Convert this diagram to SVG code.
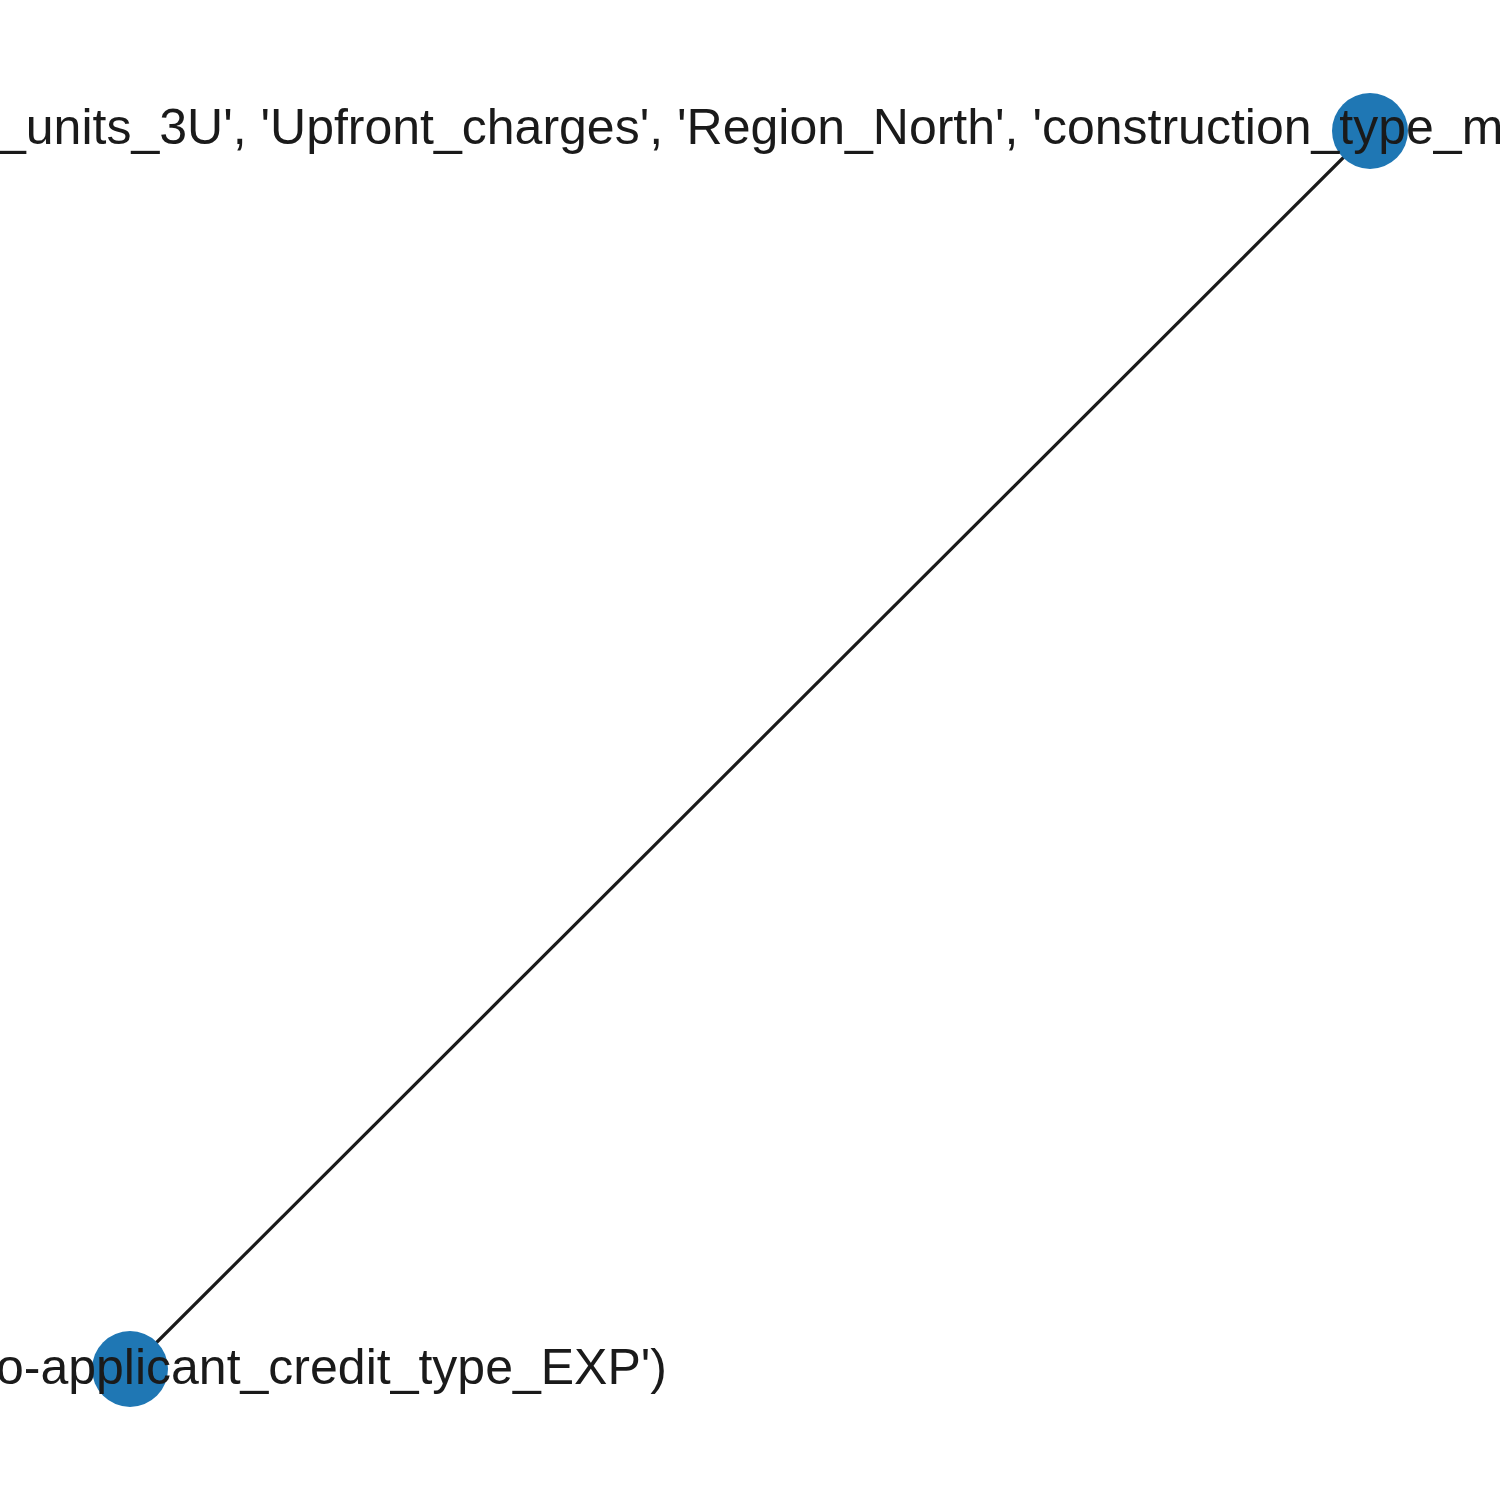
<svg xmlns="http://www.w3.org/2000/svg" width="1500" height="1500" viewBox="0 0 1500 1500">
<style>
.edge{stroke:#1a1a1a;stroke-width:3.2;fill:none}
.node{fill:#1f77b4}
.label{font-family:"Liberation Sans",Arial,sans-serif;font-size:50px;fill:#1a1a1a}
</style>
<rect width="1500" height="1500" fill="#ffffff"/>
<g id="connectors">
<line class="edge" x1="1370" y1="131" x2="130" y2="1369"/>
</g>
<g id="node-top">
<circle class="node" cx="1370" cy="131" r="38"/>
<text class="label" x="-2" y="144">_units_3U', 'Upfront_charges', 'Region_North', 'construction_type_m</text>
</g>
<g id="node-bottom">
<circle class="node" cx="130" cy="1369" r="38"/>
<text class="label" x="667" y="1384" text-anchor="end">o-applicant_credit_type_EXP')</text>
</g>
</svg>
